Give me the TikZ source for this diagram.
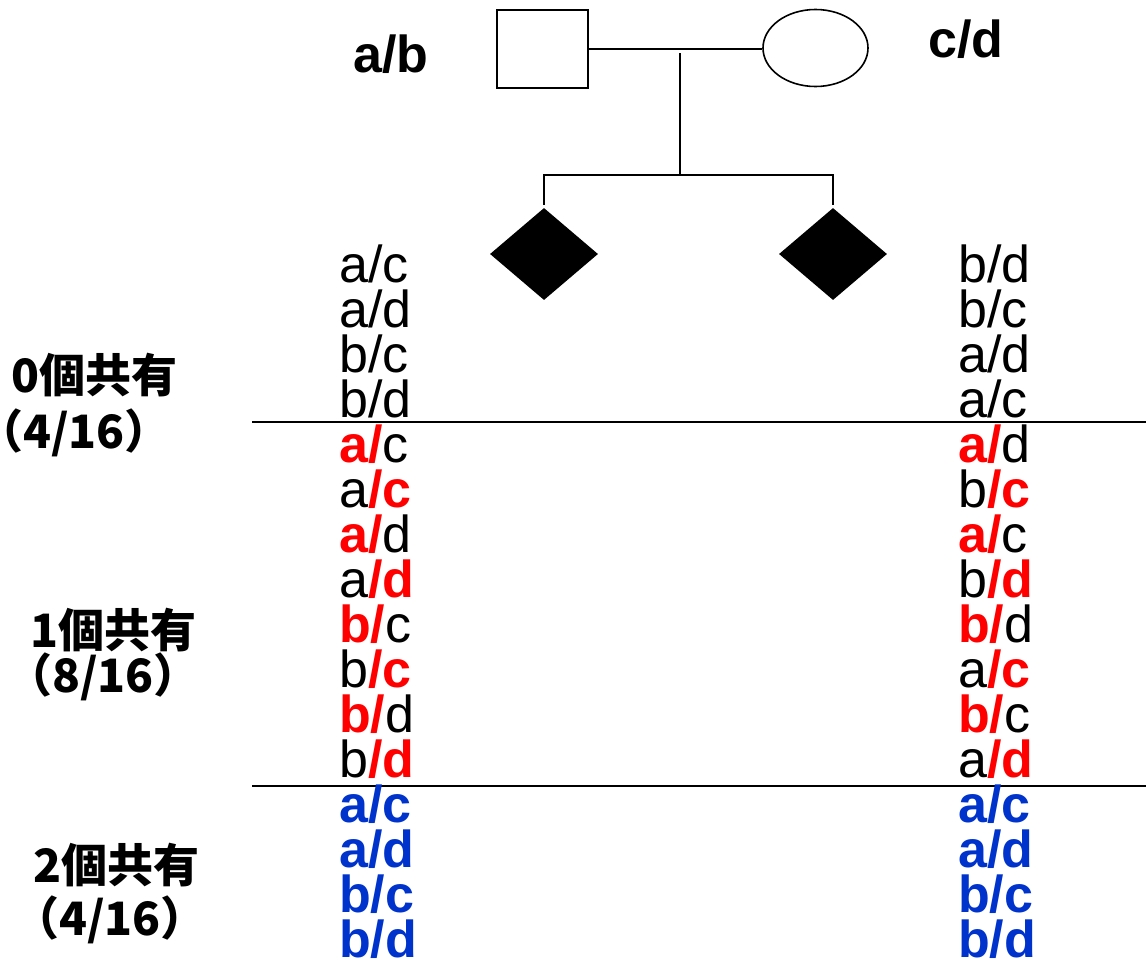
\documentclass[tikz,border=0pt]{standalone}
\usepackage{fontspec}
\setmainfont{Liberation Sans}
\newfontfamily\cjk{Noto Sans CJK JP}
\usetikzlibrary{shapes.geometric}
\definecolor{sharered}{RGB}{255,0,0}
\definecolor{shareblue}{RGB}{0,51,204}
% shared allele marks
\newcommand{\redpart}[1]{\textcolor{sharered}{\textbf{#1}}}
\newcommand{\bluepart}[1]{\textcolor{shareblue}{\textbf{#1}}}
\begin{document}
\begin{tikzpicture}[x=1pt,y=-1pt,
  geno/.style={anchor=base west, inner sep=0pt, text height=37pt, text depth=3pt,
    font=\fontsize{52}{52}\selectfont},
  parent/.style={anchor=base west, inner sep=0pt, font=\fontsize{52}{52}\selectfont\bfseries},
  group/.style={anchor=base west, inner sep=0pt, font=\cjk\bfseries\fontsize{46}{46}\selectfont},
  pline/.style={line width=1.6pt},
  divider/.style={line width=1.6pt}]
\useasboundingbox (0,0) rectangle (1146,961);

% parents
\node[draw, pline, minimum width=91, minimum height=78, inner sep=0pt] (father) at (542.5,49) {};
\node[draw, pline, ellipse, minimum width=105, minimum height=77, inner sep=0pt] (mother) at (815.5,48) {};
\node[parent] (fgeno) at (353,72) {a/b};
\node[parent] (mgeno) at (928,57) {c/d};

% affected sib pair
\node[diamond, fill=black, minimum width=108, minimum height=92, inner sep=0pt] (kid1) at (544,254) {};
\node[diamond, fill=black, minimum width=108, minimum height=92, inner sep=0pt] (kid2) at (833,254) {};

% pedigree lines
\coordinate (mate) at (680,53);
\coordinate (sib) at (680,175);
\draw[pline] (father.east) -- (father.east -| mother.west);
\draw[pline] (mate) -- (sib);
\draw[pline] ([yshift=3pt]kid1.north) |- (sib) -| ([yshift=3pt]kid2.north);

% dividers between sharing classes
\coordinate (d1a) at (252,422);
\coordinate (d1b) at (1146,422);
\coordinate (d2a) at (252,786);
\coordinate (d2b) at (1146,786);
\draw[divider] (d1a) -- (d1b);
\draw[divider] (d2a) -- (d2b);

% genotypes of sib 1
\node[geno] (l1) at (339,282) {a/c};
\node[geno] (l2) at (339,327) {a/d};
\node[geno] (l3) at (339,372) {b/c};
\node[geno] (l4) at (339,417) {b/d};
\node[geno] (l5) at (339,462) {\redpart{a/}c};
\node[geno] (l6) at (339,507) {a\redpart{/c}};
\node[geno] (l7) at (339,552) {\redpart{a/}d};
\node[geno] (l8) at (339,597) {a\redpart{/d}};
\node[geno] (l9) at (339,642) {\redpart{b/}c};
\node[geno] (l10) at (339,687) {b\redpart{/c}};
\node[geno] (l11) at (339,732) {\redpart{b/}d};
\node[geno] (l12) at (339,777) {b\redpart{/d}};
\node[geno] (l13) at (339,822) {\bluepart{a/c}};
\node[geno] (l14) at (339,867) {\bluepart{a/d}};
\node[geno] (l15) at (339,912) {\bluepart{b/c}};
\node[geno] (l16) at (339,957) {\bluepart{b/d}};

% genotypes of sib 2
\node[geno] (r1) at (958,282) {b/d};
\node[geno] (r2) at (958,327) {b/c};
\node[geno] (r3) at (958,372) {a/d};
\node[geno] (r4) at (958,417) {a/c};
\node[geno] (r5) at (958,462) {\redpart{a/}d};
\node[geno] (r6) at (958,507) {b\redpart{/c}};
\node[geno] (r7) at (958,552) {\redpart{a/}c};
\node[geno] (r8) at (958,597) {b\redpart{/d}};
\node[geno] (r9) at (958,642) {\redpart{b/}d};
\node[geno] (r10) at (958,687) {a\redpart{/c}};
\node[geno] (r11) at (958,732) {\redpart{b/}c};
\node[geno] (r12) at (958,777) {a\redpart{/d}};
\node[geno] (r13) at (958,822) {\bluepart{a/c}};
\node[geno] (r14) at (958,867) {\bluepart{a/d}};
\node[geno] (r15) at (958,912) {\bluepart{b/c}};
\node[geno] (r16) at (958,957) {\bluepart{b/d}};

% sharing classes
\node[group] (g0) at (11,392) {0個共有};
\node[group] (g0p) at (0,448) {\kern-23pt（4/16）};
\node[group] (g1) at (30,647) {1個共有};
\node[group] (g1p) at (6,692) {（8/16）};
\node[group] (g2) at (33,882) {2個共有};
\node[group] (g2p) at (13,935) {（4/16）};
\end{tikzpicture}
\end{document}
